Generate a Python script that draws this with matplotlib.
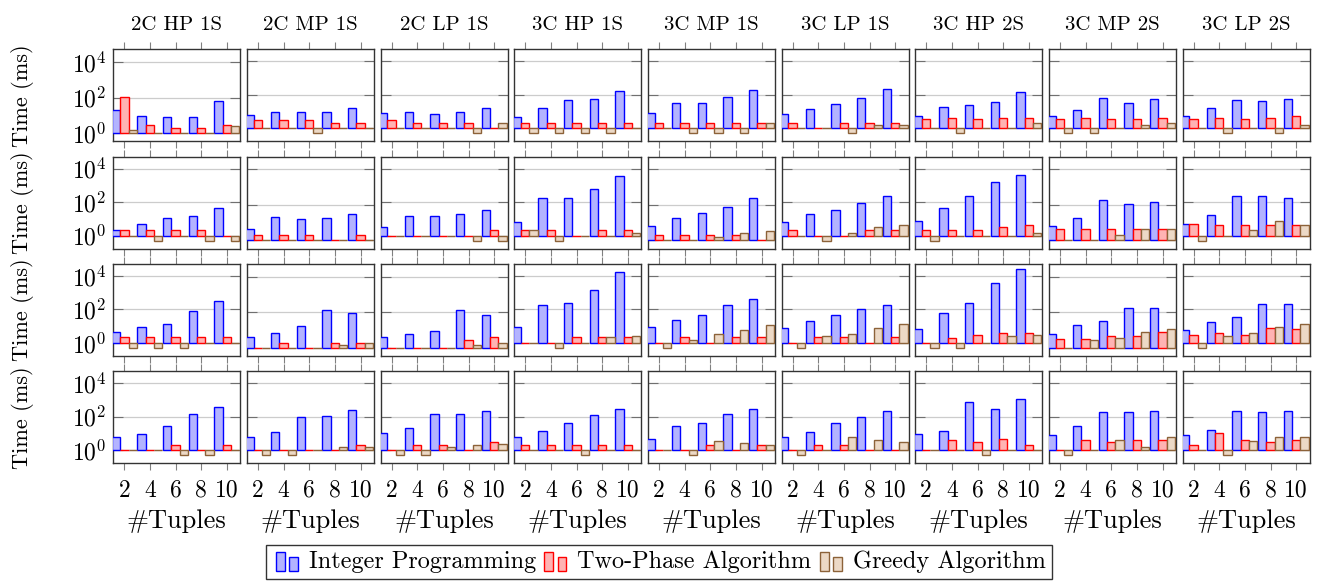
import numpy as np
import matplotlib.pyplot as plt
from matplotlib.patches import Rectangle
from matplotlib.legend_handler import HandlerBase

plt.rcParams['font.family'] = ['cmr10', 'DejaVu Serif']
plt.rcParams['mathtext.fontset'] = 'cm'
plt.rcParams['axes.formatter.use_mathtext'] = True

tuples = [2, 4, 6, 8, 10]
configs = ["2C HP 1S", "2C MP 1S", "2C LP 1S", "3C HP 1S", "3C MP 1S",
           "3C LP 1S", "3C HP 2S", "3C MP 2S", "3C LP 2S"]
series_names = ["Integer Programming", "Two-Phase Algorithm", "Greedy Algorithm"]

# time in ms, [row][config][tuples]
ip_time = [
    [[19.5, 9.3, 7.9, 7.9, 62], [6.4, 9.8, 8.9, 9.8, 16], [8.5, 9.8, 7.4, 9.8, 17],
     [5.1, 16, 48, 60, 175], [8.5, 33, 33, 72, 200], [7.4, 15, 27, 69, 220],
     [5.6, 18, 25, 38, 145], [5.6, 12, 63, 33, 55], [5.6, 17, 48, 41, 55]],
    [[2.2, 5.2, 12, 16, 42], [4.1, 21, 15, 19, 32], [3.2, 14, 16, 21, 32],
     [6.3, 174, 166, 630, 3600], [6, 17, 36, 80, 235], [6.3, 19, 33, 95, 219],
     [7.9, 48, 219, 1580, 4370], [6, 19, 190, 105, 147], [5.2, 17, 219, 219, 166]],
    [[4.4, 8.7, 13, 76, 316], [3.8, 6.8, 17, 135, 95], [3.8, 5.7, 8.8, 135, 68],
     [8.7, 190, 229, 1450, 16600], [8.7, 22, 48, 182, 400], [7.6, 20, 48, 105, 174],
     [7.2, 58, 240, 3800, 27500], [6, 20, 30, 174, 174], [6.3, 17, 38, 200, 200]],
    [[6.3, 9.1, 30, 151, 400], [6.3, 13, 95, 115, 250], [11.5, 21, 145, 138, 209],
     [6.3, 15, 40, 126, 288], [4.8, 29, 44, 151, 302], [6.3, 13, 44, 100, 209],
     [9.1, 15, 724, 275, 1100], [8.3, 28, 190, 182, 209], [8.3, 17, 209, 182, 209]],
]
tp_time = [
    [[110, 2.9, 1.9, 1.9, 2.9], [3.2, 3.2, 3.2, 2.1, 2.1], [3.2, 2.1, 2.1, 2.1, 1],
     [2.1, 2.1, 2.1, 2.1, 2.1], [2.1, 2.1, 2.1, 2.1, 2.1], [2.1, 1, 2.1, 2.1, 2.1],
     [3.4, 4.4, 3.4, 4.4, 4.4], [3.4, 4.4, 3.4, 3.4, 4.4], [3.4, 4.4, 3.4, 4.4, 5.6]],
    [[2.2, 2.2, 2.2, 2.2, 1], [2.1, 2.1, 2.1, 1, 2.1], [1, 1, 1, 1, 2.2],
     [2.2, 2.2, 1, 2.2, 2.2], [2.1, 2.1, 2.1, 2.1, 1], [2.2, 1, 1, 2.2, 2.2],
     [2.1, 2.1, 2.1, 3.2, 4.4], [4.3, 4.3, 4.3, 4.3, 4.3], [5.2, 4.4, 4.4, 4.4, 4.4]],
    [[2.3, 2.3, 2.3, 2.3, 2.3], [1, 1.8, 1, 1.8, 1.8], [1, 1, 1, 2.8, 4],
     [1, 1, 2.2, 2.2, 2.2], [1, 2.2, 1, 2.2, 2.2], [1, 2.2, 2.2, 1, 2.2],
     [1, 2.1, 3.2, 4.2, 4.2], [3, 3, 4.3, 4.3, 7.1], [3.2, 4.2, 3.2, 7.6, 6.6]],
    [[1, 1, 2.1, 1, 2.1], [1, 1, 1, 1, 2.1], [1, 2.1, 2.1, 1, 3],
     [2.1, 2.1, 2.1, 2.1, 2.1], [1, 1, 2.1, 1, 2.1], [1, 2.1, 2.1, 1, 1],
     [1, 4, 3, 5, 2.1], [1, 4, 3, 4, 4], [2.1, 11.5, 4, 3, 4]],
]
greedy_time = [
    [[1.5, 1, 1, 1, 2.5], [1, 1, 0.5, 1, 1], [1, 1, 1, 0.5, 2.1],
     [0.5, 0.5, 0.5, 0.5, 1], [1, 0.5, 0.5, 0.5, 2.1], [1, 1, 0.5, 1.6, 1.6],
     [1, 0.5, 1, 1, 2.2], [0.5, 0.5, 1, 1.7, 2.2], [1, 0.5, 1, 0.5, 1.7]],
    [[1, 0.5, 1, 0.5, 0.5], [1, 1, 1, 1, 1], [1, 1, 1, 0.5, 0.5],
     [2.2, 0.5, 1, 1, 1.5], [1, 1, 1.5, 2.6, 3.2], [1, 0.5, 1.5, 3.2, 4.4],
     [0.5, 1, 1, 1, 1.5], [1, 1, 2.1, 4.3, 4.3], [0.5, 1, 2.1, 7.2, 4.4]],
    [[0.5, 0.5, 0.5, 1, 1], [1, 1, 1, 1.4, 1.8], [1, 1, 1, 1.4, 1.8],
     [1, 0.5, 1, 2.2, 2.6], [0.5, 1.5, 3.6, 6.3, 12.6], [0.5, 2.6, 3.6, 7.6, 13],
     [0.5, 0.5, 1, 2.6, 3.2], [1, 2.6, 3.6, 7.1, 11], [0.5, 2.6, 4.2, 8.7, 14.5]],
    [[1, 1, 0.5, 0.5, 1], [0.5, 0.5, 1, 1.5, 1.5], [0.5, 0.5, 1.5, 2.1, 2.5],
     [1, 1, 0.5, 1, 1], [1, 0.5, 3.5, 2.9, 2.1], [0.5, 1, 6.3, 4, 3],
     [1, 1, 0.5, 1, 1], [0.5, 1, 4, 1.5, 6.3], [1, 0.5, 3.5, 6.3, 6.3]],
]

fills = ['#b3b3ff', '#ffb3b3', '#ecd9c6']
edges = ['#0000ff', '#ff0000', '#8c6239']


class BarPairHandler(HandlerBase):
    def create_artists(self, legend, orig, xd, yd, width, height, fontsize, trans):
        bw = width * 0.3
        arts = []
        for i, h in enumerate((1.0, 0.75)):
            r = Rectangle((xd + width * 0.12 + i * bw * 1.5, yd - height * 0.15), bw,
                          height * h * 1.1, facecolor=orig.get_facecolor(),
                          edgecolor=orig.get_edgecolor(), lw=1, transform=trans)
            arts.append(r)
        return arts


W, H = 1318, 585
fig = plt.figure(figsize=(W / 100, H / 100), dpi=100)

x = np.array(tuples, dtype=float)
bw = 0.65
ymax = 10 ** 4.72

for r in range(4):
    for c in range(9):
        left = 113.3 + 133.65 * c
        top = 49.3 + 107.3 * r
        ax = fig.add_axes([left / W, 1 - (top + 92) / H, 127 / W, 92 / H])
        data = [ip_time[r][c], tp_time[r][c], greedy_time[r][c]]
        for k, vals in enumerate(data):
            v = np.array(vals, dtype=float)
            ax.bar(x + (k - 1) * bw, v - 1, bottom=1, width=bw, color=fills[k],
                   edgecolor=edges[k], linewidth=1.0, zorder=3)
        vmin = min(min(min(d) for d in data), 1.0)
        ax.set_yscale('log')
        ax.set_ylim(10 ** (np.log10(vmin) - 0.47), ymax)
        ax.set_xlim(1.14, 11.04)
        ax.set_yticks([1, 100, 1e4])
        ax.minorticks_off()
        ax.set_xticks(tuples)
        ax.grid(axis='y', color='#cccccc', linewidth=0.9, zorder=0)
        ax.tick_params(axis='x', direction='out', top=True, bottom=True, length=5,
                       color='#808080', labelsize=17, pad=7)
        ax.tick_params(axis='y', direction='in', left=True, right=True, length=7,
                       color='#707070', labelsize=17, pad=5)
        for s in ax.spines.values():
            s.set_color('#333333')
            s.set_linewidth(1.0)
        if c == 0:
            ax.set_yticklabels([r'$10^0$', r'$10^2$', r'$10^4$'])
        else:
            ax.set_yticklabels([])
        if r == 3:
            ax.set_xticklabels([str(t) for t in tuples])
            ax.set_xlabel('#Tuples', fontsize=19, labelpad=5)
        else:
            ax.set_xticklabels([])
        if r == 0:
            ax.set_title(configs[c], fontsize=15, pad=14)
        if c == 0:
            fig.text(22 / W, 1 - (top + 46) / H, 'Time (ms)', rotation=90,
                     ha='center', va='center', fontsize=16)

handles = [Rectangle((0, 0), 1, 1, facecolor=fills[k], edgecolor=edges[k])
           for k in range(3)]
fig.legend(handles, series_names, loc='center', bbox_to_anchor=(659 / W, 1 - 562 / H),
           ncol=3, fontsize=17.5, frameon=True, fancybox=False, edgecolor='black',
           handler_map={Rectangle: BarPairHandler()}, handlelength=1.2,
           handletextpad=0.3, columnspacing=0.2, borderpad=0.25)

fig.savefig('out.png', dpi=100)
